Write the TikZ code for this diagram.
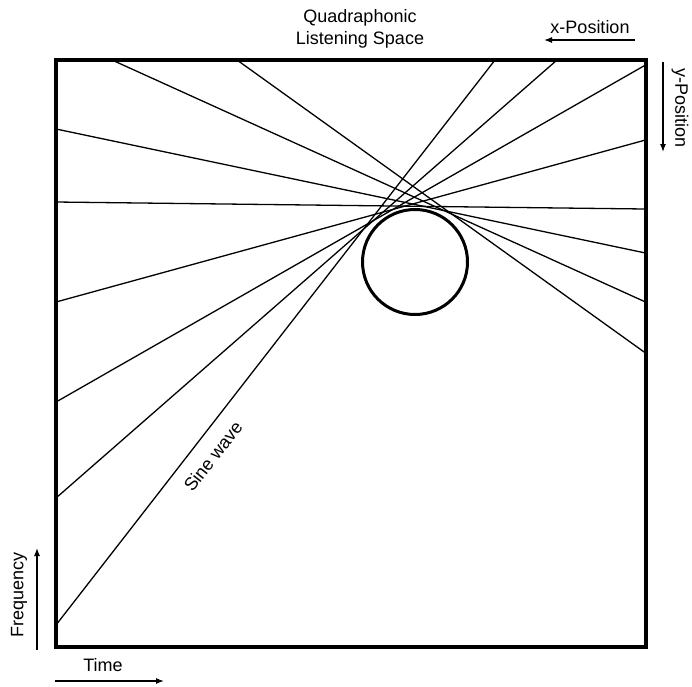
\documentclass[tikz,border=0pt]{standalone}
\usepackage{fontspec}
\setmainfont{Liberation Sans}
\usetikzlibrary{positioning,arrows.meta}

\begin{document}
\begin{tikzpicture}[x=1pt,y=-1pt,>={Latex[length=8pt,width=6pt]},font=\fontsize{18}{22}\selectfont]
  \useasboundingbox (0,0) rectangle (692,686);
  % box corners and line ends
  \coordinate (nw) at (56,60);
  \coordinate (se) at (645.5,647);
  \coordinate (w1) at (56,129);
  \coordinate (w2) at (56,202);
  \coordinate (w3) at (56,302);
  \coordinate (w4) at (56,402);
  \coordinate (w5) at (56,498);
  \coordinate (w6) at (56,625);
  \coordinate (n1) at (112,60);
  \coordinate (n2) at (237,60);
  \coordinate (n3) at (495,60);
  \coordinate (n4) at (557,60);
  \coordinate (e1) at (645.5,65);
  \coordinate (e2) at (645.5,140);
  \coordinate (e3) at (645.5,209);
  \coordinate (e4) at (645.5,253);
  \coordinate (e5) at (645.5,302);
  \coordinate (e6) at (645.5,353);
  \draw[line width=1.3pt](w1)--(e4);
  \draw[line width=1.3pt](w2)--(e3);
  \draw[line width=1.3pt](w3)--(e2);
  \draw[line width=1.3pt](w4)--(e1);
  \draw[line width=1.3pt](w5)--(n4);
  \draw[line width=1.3pt](w6)--(n3);
  \draw[line width=1.3pt](n1)--(e5);
  \draw[line width=1.3pt](n2)--(e6);
  \node (c) [circle,draw,line width=3pt,minimum size=105pt] at (415,262) {};
  \draw[line width=4pt](nw) rectangle (se);
  \node (q) [align=center] at (360,29) {Quadraphonic\\Listening Space};
  \node (s) [rotate=52,inner sep=1pt] at (213,456) {Sine wave};
  % axis labels
  \node (x) at (590,27) {x-Position};
  \coordinate (x1) at (635,40);
  \coordinate (x0) at (544,40);
  \draw[->,line width=1.2pt](x1)--(x0);
  \node (y) [rotate=-90] at (680,108) {y-Position};
  \coordinate (y0) at (663,62);
  \coordinate (y1) at (663,152);
  \draw[->,line width=1.2pt](y0)--(y1);
  \node (f) [rotate=90] at (19,595) {Frequency};
  \coordinate (f0) at (37,650);
  \coordinate (f1) at (37,548);
  \draw[->,line width=1.2pt](f0)--(f1);
  \node (t) at (103,665) {Time};
  \coordinate (t0) at (55,681);
  \coordinate (t1) at (164,681);
  \draw[->,line width=1.2pt](t0)--(t1);
\end{tikzpicture}
\end{document}
